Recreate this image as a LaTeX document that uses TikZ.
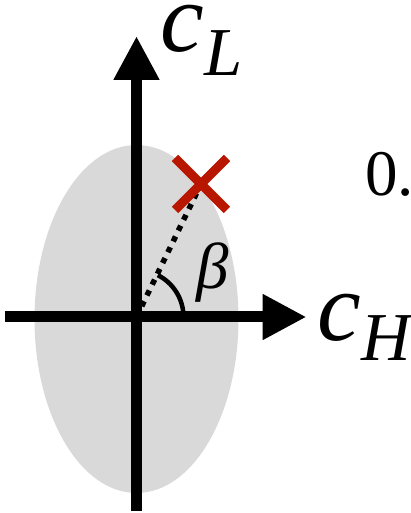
\documentclass[tikz,border=0pt]{standalone}
\usepackage{fontspec}
\setmainfont{Liberation Serif}
\usetikzlibrary{arrows.meta}
\definecolor{blobgray}{RGB}{217, 217, 217}
\definecolor{crossred}{RGB}{185, 22, 0}
\newcommand{\axname}[3]{\textit{#1}\raisebox{-#3}{\fontsize{39}{39}\selectfont\textit{#2}}}
\tikzset{
  region/.style    = {fill=blobgray, draw=none},
  axisline/.style  = {line width=0.22cm, -{Triangle[length=0.88cm, width=0.86cm]}},
  angleline/.style = {line width=0.11cm, dash pattern=on 0.11cm off 0.13cm},
  anglearc/.style  = {line width=0.09cm},
  mark cross/.style = {line width=0.18cm, crossred},
  bigtext/.style   = {inner sep=0pt, anchor=base west, font=\fontsize{56}{56}\selectfont},
  midtext/.style   = {inner sep=0pt, anchor=base west, font=\fontsize{37}{37}\selectfont},
}

\begin{document}
\begin{tikzpicture}[x=0.02cm, y=0.02cm]

\useasboundingbox (-136.5,-196) rectangle (274.5,317);

% ================= Region =================
\fill [region] (0,-2) ellipse [x radius=102, y radius=174];

% ================= Points =================
\coordinate (O)      at (0,0);
\coordinate (target) at (64.5,133);
\coordinate (xstart) at (-131.5,0);
\coordinate (xend)   at (170,0);
\coordinate (ystart) at (0,-194);
\coordinate (yend)   at (0,281);

% ================= Angle =================
\draw [angleline] (O) -- (target);
\draw [anglearc] ([shift={(0:47)}]O) arc [start angle=0, end angle=63, radius=47];
\node (beta) [midtext] at (60,28) {\textit{β}};

% ================= Marker =================
\draw [mark cross] ([shift={(-26,26)}]target) -- ([shift={(26,-26)}]target);
\draw [mark cross] ([shift={(-26,-26)}]target) -- ([shift={(26,26)}]target);

% ================= Axes =================
\draw [axisline] (xstart) -- (xend);
\draw [axisline] (ystart) -- (yend);
\node (cL) [bigtext] at (24,265)  {\axname{c}{L}{0.47cm}};
\node (cH) [bigtext] at (181,-24) {\axname{c}{H}{0.40cm}};

% ================= Value =================
\node (val) [midtext] at (228.5,121) {0.};

\end{tikzpicture}
\end{document}
